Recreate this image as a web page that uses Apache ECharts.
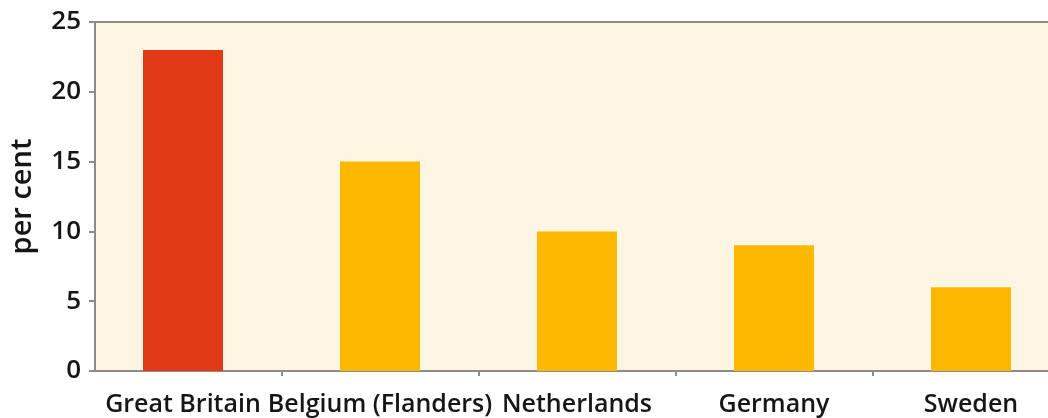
<!DOCTYPE html>
<html>
<head>
<meta charset="utf-8">
<script src="https://cdn.jsdelivr.net/npm/echarts@6/dist/echarts.min.js"></script>
<style>
  html, body { margin: 0; padding: 0; background: #fff; }
  #chart { width: 1048px; height: 418px; }
</style>
</head>
<body>
<div id="chart"></div>
<script>
const countries = ['Great Britain', 'Belgium (Flanders)', 'Netherlands', 'Germany', 'Sweden']
const perCent = [23, 15, 10, 9, 6]
const barColors = ['#e03a17', '#ffb800', '#ffb800', '#ffb800', '#ffb800']
const yTicks = [0, 5, 10, 15, 20, 25]

const font = '"Open Sans", "Noto Sans", sans-serif'
const axisGrey = '#8c8c8c'
const ink = '#161616'

const myChart = echarts.init(document.getElementById('chart'))

const option = {
  animation: false,
  textStyle: { fontFamily: font },
  // the plot runs off the right edge of the canvas, as in the source picture
  grid: { left: 84.5, width: 985, top: 22, bottom: 47, outerBoundsMode: 'none' },
  graphic: [{
    type: 'rect',
    z: -10,
    shape: { x: 95, y: 22, width: 1000, height: 349 },
    style: { fill: '#fef6e2', stroke: axisGrey, lineWidth: 2 }
  }],
  xAxis: {
    type: 'category',
    data: countries,
    axisLine: { show: false },
    axisTick: {
      show: true,
      length: 5,
      interval: (i) => i > 0,
      lineStyle: { color: axisGrey, width: 2 }
    },
    axisLabel: {
      color: ink,
      fontSize: 25,
      fontWeight: 600,
      margin: 21,
      interval: 0
    }
  },
  yAxis: {
    type: 'value',
    min: yTicks[0],
    max: yTicks[yTicks.length - 1],
    interval: 5,
    offset: -10.5,
    name: 'per cent',
    nameLocation: 'middle',
    nameRotate: 90,
    nameGap: 58,
    nameTextStyle: { color: ink, fontSize: 29, fontWeight: 600 },
    axisLine: { show: true, lineStyle: { color: axisGrey, width: 2 } },
    axisTick: { show: true, length: 6, lineStyle: { color: axisGrey, width: 2 } },
    axisLabel: { color: ink, fontSize: 26, fontWeight: 600, margin: 14 },
    splitLine: { show: false }
  },
  series: [{
    type: 'bar',
    barWidth: 80,
    data: perCent.map((v, i) => ({ value: v, itemStyle: { color: barColors[i] } }))
  }]
}

myChart.setOption(option)
</script>
</body>
</html>
